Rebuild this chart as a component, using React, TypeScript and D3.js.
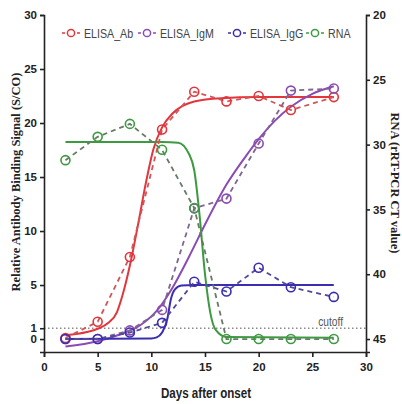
import React, { useRef, useEffect } from 'react';
import * as d3 from 'd3';

// observation days
const days = [2, 5, 8, 11, 14, 17, 20, 23, 27];

// measured values (dashed lines with circles)
const elisaAb = [0.1, 1.6, 7.6, 19.4, 22.9, 22.0, 22.5, 21.2, 22.4];
const elisaIgM = [0.0, 0.0, 0.8, 2.7, 12.1, 13.0, 18.1, 23.0, 23.2];
const elisaIgG = [0.0, 0.0, 0.6, 1.5, 5.3, 4.4, 6.6, 4.8, 3.9];
const rna = [31.2, 29.4, 28.4, 30.4, 34.9, 45.0, 45.0, 45.0, 45.0];

// fitted curves: [day, value]
const fitAb = [[2, 0.35], [4, 0.65], [5, 0.95], [6, 1.5], [6.8, 2.5], [7.3, 4.0], [8, 6.8], [8.8, 10.8], [9.5, 14.5], [10.2, 17.6], [11, 19.6], [12, 20.9], [14, 22.0], [16.5, 22.3], [20, 22.4], [27, 22.4]];
const fitIgM = [[2, -0.7], [5, -0.2], [7, 0.4], [9, 1.3], [10.5, 2.6], [12, 4.8], [13.5, 7.6], [15, 10.6], [17, 14.3], [19, 17.2], [20, 18.5], [21.5, 20.2], [23, 21.5], [25, 22.7], [27, 23.4]];
const fitIgG = [[2, 0.0], [10, 0.05], [10.5, 0.15], [11, 0.6], [11.5, 1.9], [11.8, 3.6], [12.2, 4.6], [12.8, 4.95], [14, 5.0], [27, 5.0]];
const fitRna = [[2, 29.8], [11, 29.8], [12.5, 29.85], [13.5, 30.7], [14, 32.0], [14.5, 35.5], [15, 40.0], [15.5, 43.0], [16, 44.3], [17, 44.85], [27, 44.9]];

const leftTicks = [0, 1, 5, 10, 15, 20, 25, 30];
const rightTicks = [20, 25, 30, 35, 40, 45];
const xTicks = [0, 5, 10, 15, 20, 25, 30];
const cutoff = 1;

const sans = "'Liberation Sans', Arial, sans-serif";
const serif = "'Liberation Serif', 'Times New Roman', serif";

function App() {
    const ref = useRef(null);

    useEffect(() => {
        const svg = d3.select(ref.current);
        svg.selectAll('*').remove();

        const x = d3.scaleLinear().domain([0, 30]).range([44, 366]);
        const yL = d3.scaleLinear().domain([-1.2, 30]).range([352, 15]);
        const yR = d3.scaleLinear().domain([20, 46]).range([15, 352]);

        const series = [
            { name: 'ELISA_Ab', values: elisaAb, fit: fitAb, color: '#e2363c', dash: '#d2555a', y: yL },
            { name: 'ELISA_IgM', values: elisaIgM, fit: fitIgM, color: '#8a4cb2', dash: '#7d6690', y: yL },
            { name: 'ELISA_IgG', values: elisaIgG, fit: fitIgG, color: '#3a2db0', dash: '#4f4a9a', y: yL },
            { name: 'RNA', values: rna, fit: fitRna, color: '#3d9a40', dash: '#667a66', y: yR },
        ];

        // cutoff
        svg.append('line')
            .attr('x1', x(0)).attr('x2', x(30))
            .attr('y1', yL(cutoff)).attr('y2', yL(cutoff))
            .attr('stroke', '#8a8a8a').attr('stroke-width', 1.3)
            .attr('stroke-dasharray', '1.5,2.5');
        svg.append('text')
            .attr('transform', 'translate(343,' + (yL(cutoff) - 2) + ') scale(0.85,1)')
            .attr('text-anchor', 'end')
            .attr('font-family', sans).attr('font-size', 12)
            .attr('fill', '#555')
            .text('cutoff');

        const fitLine = (s) => d3.line()
            .x((d) => x(d[0]))
            .y((d) => s.y(d[1]))
            .curve(d3.curveMonotoneX);

        const obsLine = (s) => d3.line()
            .x((d, i) => x(days[i]))
            .y((d) => s.y(d));

        // fitted curves
        series.forEach((s) => {
            svg.append('path')
                .datum(s.fit)
                .attr('d', fitLine(s))
                .attr('fill', 'none')
                .attr('stroke', s.color)
                .attr('stroke-width', 2);
        });

        // observations
        series.forEach((s) => {
            svg.append('path')
                .datum(s.values)
                .attr('d', obsLine(s))
                .attr('fill', 'none')
                .attr('stroke', s.dash)
                .attr('stroke-width', 1.8)
                .attr('stroke-dasharray', '5,4');
            svg.append('g')
                .selectAll('circle')
                .data(s.values)
                .enter()
                .append('circle')
                .attr('cx', (d, i) => x(days[i]))
                .attr('cy', (d) => s.y(d))
                .attr('r', 4.5)
                .attr('fill', 'none')
                .attr('stroke', s.color)
                .attr('stroke-width', 1.6);
        });

        // axes
        const styleAxis = (g) => {
            g.select('.domain').attr('stroke', '#222').attr('stroke-width', 1.6);
            g.selectAll('.tick line').attr('stroke', '#222').attr('stroke-width', 1.6);
            g.selectAll('.tick text')
                .attr('font-family', sans)
                .attr('font-size', 11.5)
                .attr('font-weight', 'bold')
                .attr('fill', '#222');
        };

        svg.append('g')
            .attr('transform', 'translate(0,352)')
            .call(d3.axisBottom(x).tickValues(xTicks).tickSizeOuter(0).tickSize(5).tickPadding(6))
            .call(styleAxis);

        svg.append('g')
            .attr('transform', 'translate(44,0)')
            .call(d3.axisLeft(yL).tickValues(leftTicks).tickSizeOuter(0).tickSize(4).tickPadding(3))
            .call(styleAxis);

        svg.append('g')
            .attr('transform', 'translate(366,0)')
            .call(d3.axisRight(yR).tickValues(rightTicks).tickSizeOuter(0).tickSize(4).tickPadding(3))
            .call(styleAxis);

        // axis titles
        svg.append('text')
            .attr('transform', 'translate(20,182) rotate(-90)')
            .attr('text-anchor', 'middle')
            .attr('font-family', serif).attr('font-weight', 'bold').attr('font-size', 12.5)
            .attr('fill', '#222')
            .text('Relative Antibody Binding Signal (S/CO)');

        svg.append('text')
            .attr('transform', 'translate(391,183) rotate(90)')
            .attr('text-anchor', 'middle')
            .attr('font-family', serif).attr('font-weight', 'bold').attr('font-size', 12.5)
            .attr('fill', '#222')
            .text('RNA (rRT-PCR CT value)');

        svg.append('text')
            .attr('transform', 'translate(206,398) scale(0.8,1)')
            .attr('text-anchor', 'middle')
            .attr('font-family', sans).attr('font-weight', 'bold').attr('font-size', 14.5)
            .attr('fill', '#222')
            .text('Days after onset');

        // legend
        const legendX = [71, 147, 237, 315];
        const legend = svg.append('g')
            .selectAll('g')
            .data(series)
            .enter()
            .append('g')
            .attr('transform', (d, i) => 'translate(' + legendX[i] + ',33)');
        legend.append('line')
            .attr('x1', -9).attr('x2', 9)
            .attr('stroke', (d) => d.color).attr('stroke-width', 1.6)
            .attr('stroke-dasharray', '3,2');
        legend.append('circle')
            .attr('r', 3.6)
            .attr('fill', 'white')
            .attr('stroke', (d) => d.color).attr('stroke-width', 1.5);
        legend.append('text')
            .attr('transform', 'translate(13,0) scale(0.82,1)')
            .attr('dy', '0.35em')
            .attr('font-family', sans).attr('font-size', 13)
            .attr('fill', '#444')
            .text((d) => d.name);
    }, []);

    return (
        <svg ref={ref} width={402} height={404}
            style={{ position: 'absolute', left: 0, top: 0, background: '#fff' }} />
    );
}

export default App;
